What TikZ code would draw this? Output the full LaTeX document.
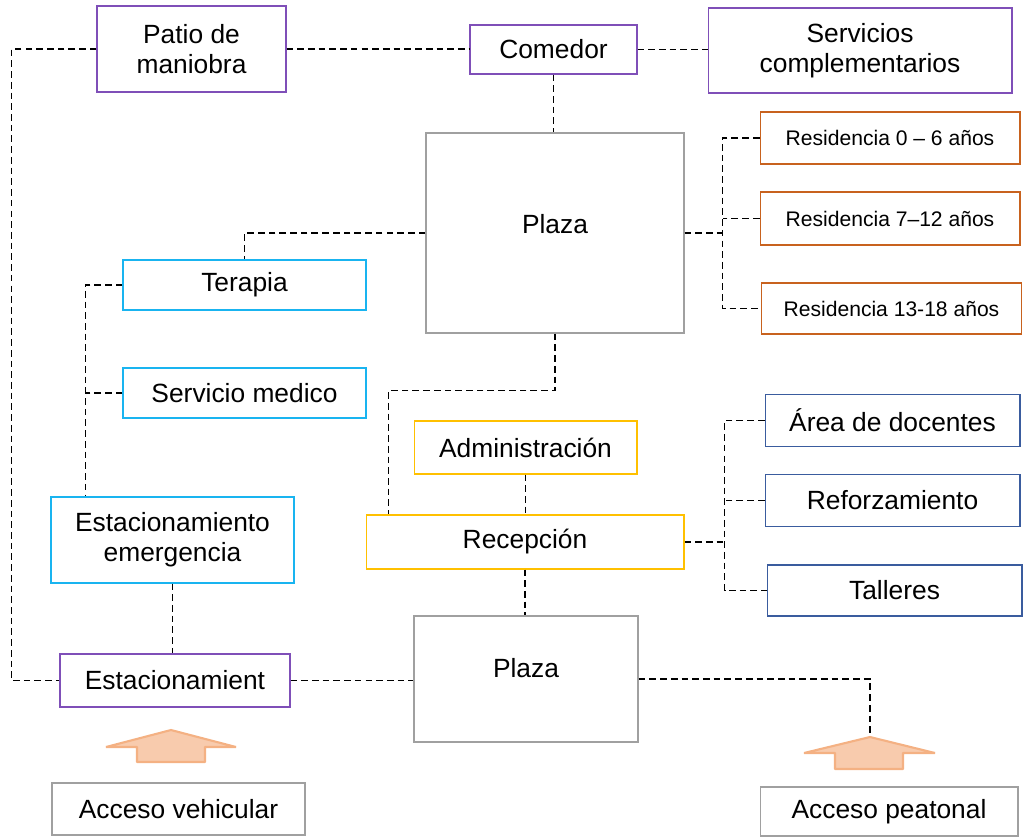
\documentclass[tikz,border=0pt]{standalone}
\usepackage{fontspec}
\setmainfont{Liberation Sans}
\definecolor{morado}{HTML}{7F4FB8}
\definecolor{celeste}{HTML}{19B4F0}
\definecolor{naranja}{HTML}{C8621E}
\definecolor{amarillo}{HTML}{FFC000}
\definecolor{azul}{HTML}{3A5C9E}
\definecolor{gris}{HTML}{A0A0A0}
\definecolor{durazno}{HTML}{F8CBAD}
\definecolor{borde}{HTML}{F4B183}

\begin{document}
\begin{tikzpicture}[x=0.02cm, y=-0.02cm, font=\fontsize{15}{17}\selectfont,
    caja/.style={draw, line width=0.6pt, align=center, inner sep=0pt},
    lila/.style={caja, draw=morado},
    cian/.style={caja, draw=celeste},
    resid/.style={caja, draw=naranja, font=\fontsize{12}{14}\selectfont, minimum width=5.2cm},
    oro/.style={caja, draw=amarillo},
    marino/.style={caja, draw=azul, minimum width=5.1cm, minimum height=1.05cm},
    plaza/.style={caja, draw=gris, line width=0.8pt},
    enlace/.style={line width=0.9pt, dash pattern=on 3.8pt off 2.3pt},
    flecha/.style={fill=durazno, draw=borde, line width=1.2pt, line join=bevel}]
  \useasboundingbox (0,0) rectangle (1023,836);

  % zona superior
  \node[lila, minimum width=3.78cm, minimum height=1.72cm] (patio) at (191.5,49) {Patio de\\maniobra};
  \node[lila, minimum width=3.34cm, minimum height=0.98cm] (comedor) at (553.5,49.5) {Comedor};
  \node[lila, minimum width=6.08cm, minimum height=1.70cm] (servicios) at (860,50.5) {Servicios\\complementarios};
  \node[plaza, minimum width=5.16cm, minimum height=4cm,
        label={[yshift=5pt]center:Plaza}] (plazaA) at (555,233) {};

  % residencias
  \node[resid, minimum height=1.04cm] (res06) at (890,138) {Residencia 0 – 6 años};
  \node[resid, minimum height=1.06cm] (res712) at (890,218.5) {Residencia 7–12 años};
  \node[resid, minimum height=1.02cm] (res1318) at (891.5,308.5) {Residencia 13-18 años};

  % salud
  \node[cian, minimum width=4.86cm, minimum height=1cm] (terapia) at (244.5,285) {Terapia};
  \node[cian, minimum width=4.86cm, minimum height=1cm] (medico) at (244.5,393) {Servicio medico};
  \node[cian, minimum width=4.86cm, minimum height=1.72cm] (emerg) at (172.5,540) {Estacionamiento\\emergencia};

  % administracion
  \node[oro, minimum width=4.46cm, minimum height=1.06cm] (admin) at (525.5,447.5) {Administración};
  \node[oro, minimum width=6.36cm, minimum height=1.08cm] (recep) at (525,542) {Recepción};

  % docentes
  \node[marino] (docentes) at (892.5,420.5) {Área de docentes};
  \node[marino] (refuerzo) at (892.5,500.5) {Reforzamiento};
  \node[marino, minimum height=1.02cm] (talleres) at (894.5,590.5) {Talleres};

  % zona inferior
  \node[plaza, minimum width=4.48cm, minimum height=2.52cm,
        label={[yshift=6pt]center:Plaza}] (plazaB) at (526,679) {};
  \node[lila, minimum width=4.6cm, minimum height=1.06cm] (estac) at (175,680.5) {Estacionamient};
  \node[plaza, line width=0.6pt, minimum width=5.06cm, minimum height=1.04cm] (vehic) at (178.5,809) {Acceso vehicular};
  \node[plaza, line width=0.6pt, minimum width=5.16cm, minimum height=0.98cm] (peat) at (889,811.5) {Acceso peatonal};

  % flechas de acceso
  \draw[flecha] (171,730) -- (236,747) -- (205,747) -- (205,762) -- (137,762) -- (137,747) -- (106,747) -- cycle;
  \draw[flecha] (870,737) coordinate (puntaP) -- (935,753) -- (903,753) -- (903,769) -- (835,769) -- (835,753) -- (804,753) -- cycle;

  % conexiones
  \draw[enlace] (patio.west) -- ++(-85,0) |- (estac.west);
  \draw[enlace] (patio.east) -- (patio.east -| comedor.west);
  \draw[enlace] (comedor.east) -- (comedor.east -| servicios.west);
  \draw[enlace] (comedor.south) -- (comedor.south |- plazaA.north);
  \draw[enlace] (plazaA.west) -| (terapia.north);
  \draw[enlace] (terapia.west) -| ([xshift=0.7cm]emerg.north west);
  \draw[enlace] (medico.west) -- ++(-37,0);
  \draw[enlace] (plazaA.east) -- ++(38,0) coordinate (busR);
  \draw[enlace] (res06.west) -| (busR) |- (res1318.west);
  \draw[enlace] (res712.west) -- (res712.west -| busR);
  \draw[enlace] (plazaA.south) -- ++(0,57) -| ([xshift=0.46cm]recep.north west);
  \draw[enlace] (admin.south) -- (admin.south |- recep.north);
  \draw[enlace] (recep.east) -- ++(40,0) coordinate (busD);
  \draw[enlace] (docentes.west) -| (busD) |- (talleres.west);
  \draw[enlace] (refuerzo.west) -- (refuerzo.west -| busD);
  \draw[enlace] (recep.south) -- (recep.south |- plazaB.north);
  \draw[enlace] (emerg.south) -- (emerg.south |- estac.north);
  \draw[enlace] (estac.east) -- (estac.east -| plazaB.west);
  \draw[enlace] (plazaB.east) -| (puntaP);
\end{tikzpicture}
\end{document}
